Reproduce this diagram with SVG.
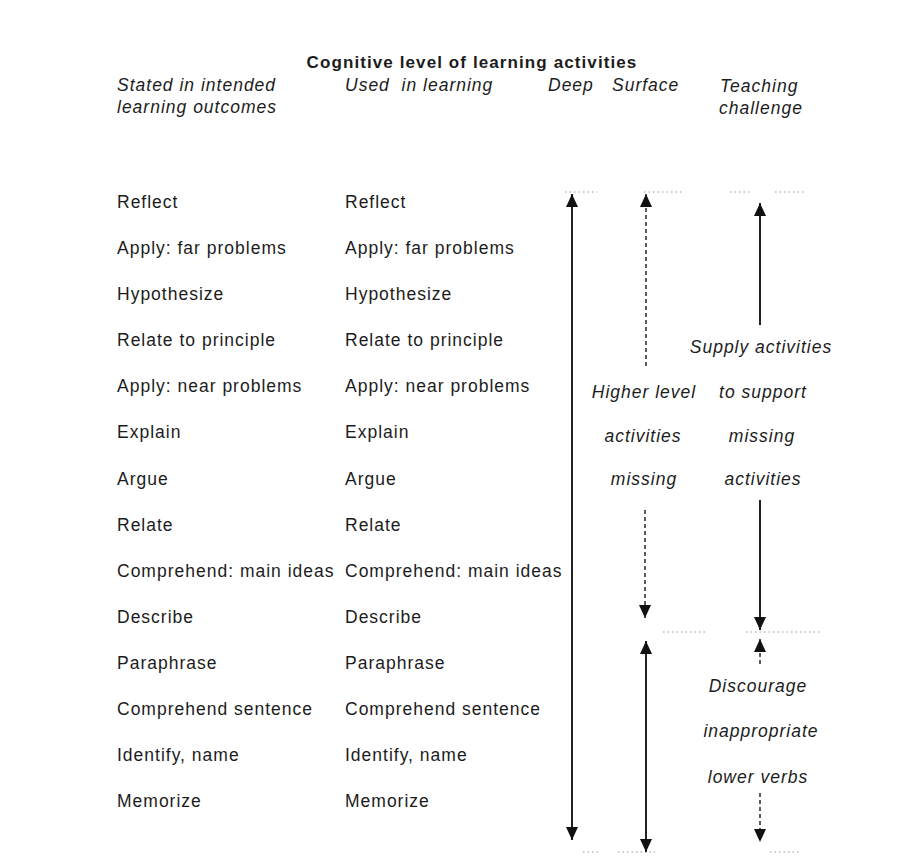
<svg xmlns="http://www.w3.org/2000/svg" width="910" height="863" viewBox="0 0 910 863">
<style>
.t{font-family:"Liberation Sans",Arial,Helvetica,sans-serif;font-size:17.5px;letter-spacing:1px;fill:#1c1c1c}
.i{font-style:italic}
.m{text-anchor:middle}
.title{font-family:"Liberation Sans",Arial,Helvetica,sans-serif;font-size:17px;font-weight:bold;letter-spacing:1.1px;fill:#1c1c1c;text-anchor:middle}
.solid{stroke:#222;stroke-width:2;fill:none}
.dash{stroke:#333;stroke-width:1.6;stroke-dasharray:4 3;fill:none}
.dot{stroke:#999;stroke-width:1.2;stroke-dasharray:1.5 3;fill:none}
</style>
<defs>
<marker id="ah" viewBox="0 0 13 12" refX="13" refY="6" markerWidth="13" markerHeight="12" markerUnits="userSpaceOnUse" orient="auto-start-reverse">
<path d="M0,0 L13,6 L0,12 z" fill="#111"/>
</marker>
</defs>
<rect width="910" height="863" fill="#fff"/>

<g id="title"><text class="title" x="472" y="68">Cognitive level of learning activities</text></g>

<g id="headers">
<text class="t i" x="117" y="91">Stated in intended</text>
<text class="t i" x="117" y="113">learning outcomes</text>
<text class="t i" x="345" y="91" style="white-space:pre">Used  in learning</text>
<text class="t i" x="548" y="91">Deep</text>
<text class="t i" x="612" y="91">Surface</text>
<text class="t i" x="720" y="92">Teaching</text>
<text class="t i" x="719" y="114">challenge</text>
</g>

<g id="stated">
<text class="t" x="117" y="208">Reflect</text>
<text class="t" x="117" y="254">Apply: far problems</text>
<text class="t" x="117" y="300">Hypothesize</text>
<text class="t" x="117" y="346">Relate to principle</text>
<text class="t" x="117" y="392">Apply: near problems</text>
<text class="t" x="117" y="438">Explain</text>
<text class="t" x="117" y="484.5">Argue</text>
<text class="t" x="117" y="530.5">Relate</text>
<text class="t" x="117" y="576.6">Comprehend: main ideas</text>
<text class="t" x="117" y="622.7">Describe</text>
<text class="t" x="117" y="668.8">Paraphrase</text>
<text class="t" x="117" y="714.9">Comprehend sentence</text>
<text class="t" x="117" y="761">Identify, name</text>
<text class="t" x="117" y="807">Memorize</text>
</g>

<g id="used">
<text class="t" x="345" y="208">Reflect</text>
<text class="t" x="345" y="254">Apply: far problems</text>
<text class="t" x="345" y="300">Hypothesize</text>
<text class="t" x="345" y="346">Relate to principle</text>
<text class="t" x="345" y="392">Apply: near problems</text>
<text class="t" x="345" y="438">Explain</text>
<text class="t" x="345" y="484.5">Argue</text>
<text class="t" x="345" y="530.5">Relate</text>
<text class="t" x="345" y="576.6">Comprehend: main ideas</text>
<text class="t" x="345" y="622.7">Describe</text>
<text class="t" x="345" y="668.8">Paraphrase</text>
<text class="t" x="345" y="714.9">Comprehend sentence</text>
<text class="t" x="345" y="761">Identify, name</text>
<text class="t" x="345" y="807">Memorize</text>
</g>

<g id="higher-missing">
<text class="t i m" x="644" y="398">Higher level</text>
<text class="t i m" x="643" y="442">activities</text>
<text class="t i m" x="644" y="485">missing</text>
</g>

<g id="supply">
<text class="t i m" x="761" y="353">Supply activities</text>
<text class="t i m" x="763" y="398">to support</text>
<text class="t i m" x="762" y="442">missing</text>
<text class="t i m" x="763" y="485">activities</text>
</g>

<g id="discourage">
<text class="t i m" x="758" y="692">Discourage</text>
<text class="t i m" x="761" y="737">inappropriate</text>
<text class="t i m" x="758" y="783">lower verbs</text>
</g>

<g id="connectors">
<path class="dot" d="M565,192 H597 M644,192 H682 M730,192 H752 M775,192 H805"/>
<path class="dot" d="M663,632 H705 M746,632 H820"/>
<path class="dot" d="M583,852 H598 M618,852 H655 M770,852 H800"/>
<line class="solid" x1="572" y1="194" x2="572" y2="840" marker-start="url(#ah)" marker-end="url(#ah)"/>
<line class="dash" x1="646" y1="194" x2="646" y2="367" marker-start="url(#ah)"/>
<line class="dash" x1="645" y1="510" x2="645" y2="618" marker-end="url(#ah)"/>
<line class="solid" x1="646" y1="641" x2="646" y2="852" marker-start="url(#ah)" marker-end="url(#ah)"/>
<line class="solid" x1="760" y1="203" x2="760" y2="325" marker-start="url(#ah)"/>
<line class="solid" x1="760" y1="500" x2="760" y2="630" marker-end="url(#ah)"/>
<line class="dash" x1="760" y1="639" x2="760" y2="665" marker-start="url(#ah)"/>
<line class="dash" x1="760" y1="793" x2="760" y2="842" marker-end="url(#ah)"/>
</g>
</svg>
